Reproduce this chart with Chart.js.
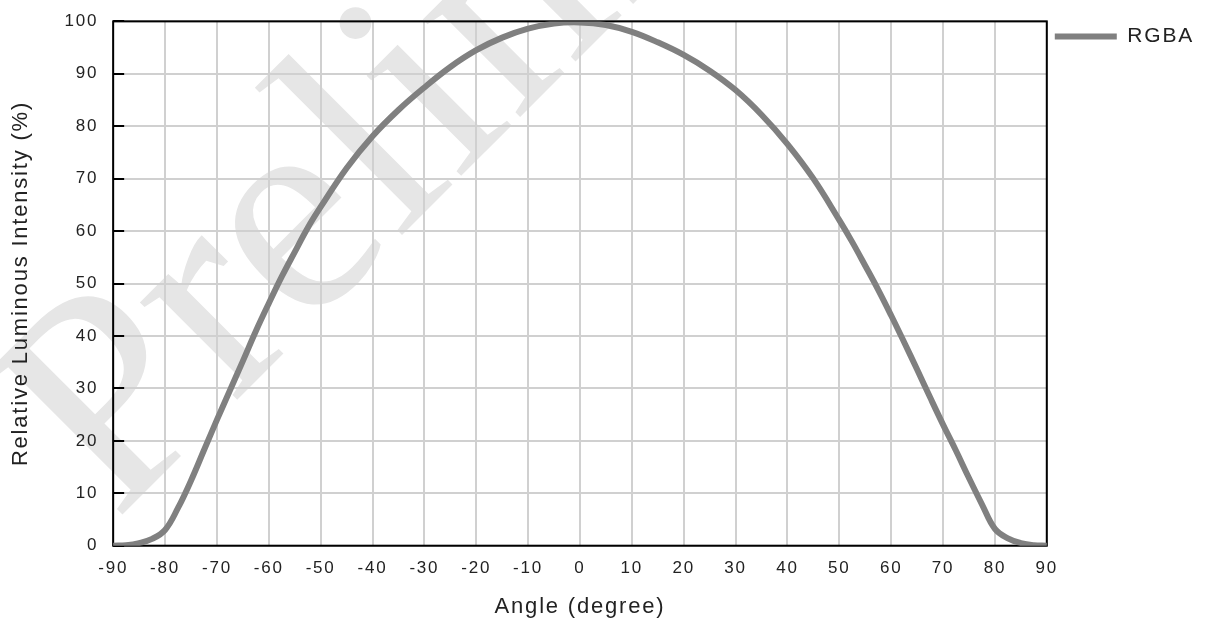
<!DOCTYPE html>
<html>
<head>
<meta charset="utf-8">
<script src="https://cdn.jsdelivr.net/npm/chart.js@4/dist/chart.umd.min.js"></script>
<style>
  html, body { margin: 0; padding: 0; background: #fff; }
  #wrap { width: 1208px; height: 625px; }
</style>
</head>
<body>
<div id="wrap"><canvas id="intensityChart"></canvas></div>
<script>
// Viewing angle (degree) and relative luminous intensity (%)
const angles = [-90, -87.5, -85, -82.5, -80, -77.5, -75, -72.5, -70, -67.5, -65, -62.5, -60, -57.5, -55, -52.5, -50,
                -45, -40, -35, -30, -25, -20, -15, -10, -5, 0, 5, 10, 15, 20, 25, 30, 35, 40, 45,
                50, 52.5, 55, 57.5, 60, 62.5, 65, 67.5, 70, 72.5, 75, 77.5, 80, 82.5, 85, 87.5, 90];
const rgbaIntensity = [0, 0.1, 0.5, 1.3, 3.0, 7.2, 12.4, 18.2, 24.0, 29.6, 35.2, 40.9, 46.2, 51.3, 56.0, 60.6, 64.6,
                       72.0, 78.1, 83.1, 87.4, 91.3, 94.5, 96.9, 98.6, 99.6, 99.8, 99.3, 98.0, 96.0, 93.6, 90.6, 86.9, 82.2, 76.6, 70.0,
                       62.1, 57.9, 53.4, 48.8, 43.9, 38.8, 33.6, 28.3, 23.1, 18.1, 12.9, 7.9, 3.2, 1.4, 0.5, 0.1, 0];
const seriesName = 'RGBA';
const xTicks = [-90, -80, -70, -60, -50, -40, -30, -20, -10, 0, 10, 20, 30, 40, 50, 60, 70, 80, 90];
const yTicks = [0, 10, 20, 30, 40, 50, 60, 70, 80, 90, 100];
const watermarkText = 'Preliminary';

const FONT = '"Liberation Sans", Arial, sans-serif';

// spaced-out lettering used by all chart text
const spacing = {
  id: 'spacing',
  beforeLayout(chart) { chart.ctx.letterSpacing = '1.8px'; },
  beforeDraw(chart) { chart.ctx.letterSpacing = '1.8px'; }
};

// big grey diagonal stamp behind the grid
const watermark = {
  id: 'watermark',
  beforeDraw(chart) {
    const ctx = chart.ctx;
    ctx.save();
    ctx.letterSpacing = '0px';
    ctx.translate(115, 522);
    ctx.rotate(-45 * Math.PI / 180);
    ctx.font = '300px "Liberation Serif", "Times New Roman", serif';
    ctx.fillStyle = '#e6e6e6';
    ctx.textBaseline = 'alphabetic';
    ctx.fillText(watermarkText, 0, 0);
    ctx.restore();
  }
};

// black frame round the plot and short inward ticks on the value axis
const frame = {
  id: 'frame',
  beforeDatasetsDraw(chart) {
    const {ctx, chartArea: a, scales: {y}} = chart;
    ctx.save();
    ctx.strokeStyle = '#000';
    ctx.lineWidth = 2;
    ctx.strokeRect(a.left, a.top, a.right - a.left, a.bottom - a.top);
    ctx.beginPath();
    yTicks.forEach(v => {
      const py = Math.round(y.getPixelForValue(v));
      ctx.moveTo(a.left, py);
      ctx.lineTo(a.left + 11, py);
    });
    ctx.stroke();
    ctx.restore();
  }
};

new Chart(document.getElementById('intensityChart'), {
  type: 'line',
  data: {
    datasets: [{
      label: seriesName,
      data: angles.map((a, i) => ({x: a, y: rgbaIntensity[i]})),
      borderColor: '#808080',
      backgroundColor: '#808080',
      borderWidth: 6,
      borderCapStyle: 'round',
      pointRadius: 0,
      tension: 0.4,
      fill: false
    }]
  },
  options: {
    responsive: true,
    maintainAspectRatio: false,
    animation: false,
    layout: { padding: { top: 18, right: 4, bottom: 0, left: 0 } },
    plugins: {
      tooltip: { enabled: false },
      legend: {
        position: 'right',
        align: 'start',
        labels: {
          usePointStyle: true,
          pointStyle: 'line',
          pointStyleWidth: 62,
          boxHeight: 6,
          padding: 8,
          color: '#222',
          font: { family: FONT, size: 21 }
        }
      }
    },
    scales: {
      x: {
        type: 'linear',
        min: -90,
        max: 90,
        afterBuildTicks: s => { s.ticks = xTicks.map(v => ({value: v})); },
        grid: { color: '#d0d0d0', lineWidth: 2, drawTicks: false },
        border: { display: false },
        ticks: { color: '#222', padding: 12, maxRotation: 0, font: { family: FONT, size: 17 } },
        title: {
          display: true,
          text: 'Angle (degree)',
          color: '#222',
          padding: { top: 3.5, bottom: 5 },
          font: { family: FONT, size: 22 }
        }
      },
      y: {
        min: 0,
        max: 100,
        afterBuildTicks: s => { s.ticks = yTicks.map(v => ({value: v})); },
        grid: { color: '#d0d0d0', lineWidth: 2, drawTicks: false },
        border: { display: false },
        ticks: { color: '#222', padding: 15, font: { family: FONT, size: 17, lineHeight: 0.75 } },
        title: {
          display: true,
          text: 'Relative Luminous Intensity (%)',
          color: '#222',
          padding: { top: 8, bottom: 15 },
          font: { family: FONT, size: 22 }
        }
      }
    }
  },
  plugins: [spacing, watermark, frame]
});
</script>
</body>
</html>
